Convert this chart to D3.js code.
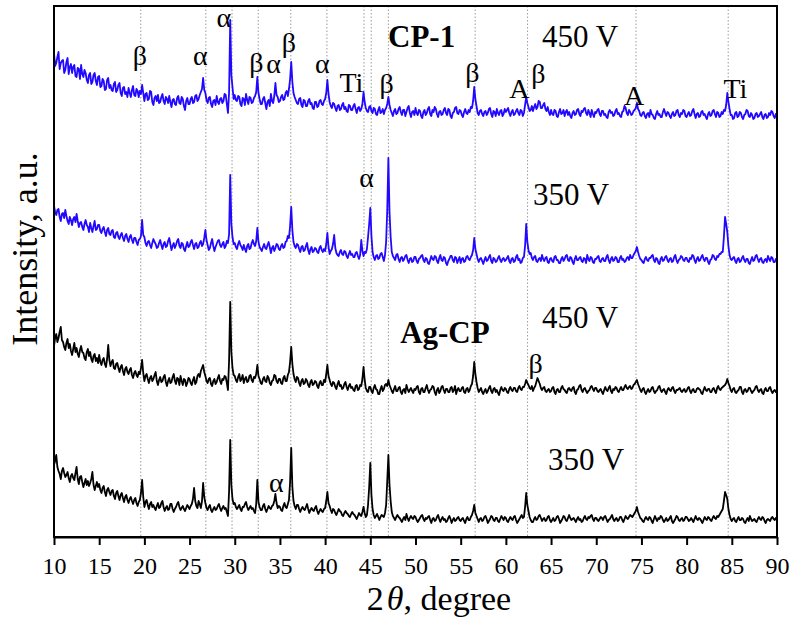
<!DOCTYPE html>
<html>
<head>
<meta charset="utf-8">
<script src="https://cdn.jsdelivr.net/npm/d3@7"></script>
<style>
  body { margin: 0; background: #fff; }
  svg text { font-family: "Liberation Serif", "Times New Roman", serif; }
</style>
</head>
<body>
<svg id="chart" width="791" height="621"></svg>
<script>
// XRD patterns, one row per degree, 0.125 deg step (10..90)
var cp1_450 = [
  84,71,74,80,85,68,74,76, 77,64,67,75,79,63,70,73, 64,70,72,61,60,69,68,58, 72,63,60,67,64,57,54,62, 64,53,55,62,64,56,52,60,
  61,50,51,58,56,47,48,57, 59,49,52,47,46,53,55,45, 47,52,54,44,41,49,50,43, 45,40,49,44,40,47,51,42, 41,48,46,40,46,43,52,44,
  36,43,44,37,38,46,45,35, 32,39,41,36,42,34,35,40, 43,36,33,40,38,34,41,35, 30,37,38,33,32,39,41,34, 33,40,38,31,27,36,39,33,
  33,38,40,34,35,41,42,36, 38,42,45,48,59,47,44,37, 34,39,40,33,30,36,37,32, 41,35,33,38,39,34,36,43, 42,33,24,45,117,62,50,38,
  42,37,36,41,40,33,31,39, 38,32,43,37,33,40,39,34, 35,39,41,45,60,44,38,33, 33,38,40,34,28,35,37,31, 43,36,34,41,54,42,40,35,
  36,40,42,37,38,44,46,41, 48,58,75,55,44,40,37,34, 33,38,39,32,30,37,36,31, 31,36,38,33,34,29,28,35, 35,30,31,36,37,33,32,36,
  38,44,57,43,35,31,29,34, 33,29,26,31,32,27,28,32, 34,28,30,26,25,32,31,27, 27,31,33,28,24,29,30,26, 28,33,45,35,29,26,25,30,
  31,26,24,29,28,23,22,27, 30,24,25,28,23,27,29,33, 40,32,27,24,21,26,28,23, 24,28,30,25,22,27,27,21, 25,29,31,24,20,25,26,22,
  29,24,22,27,26,21,19,25, 27,22,24,28,30,23,21,27, 25,30,28,23,20,25,26,22, 23,27,29,24,22,28,27,21, 19,24,25,29,30,24,23,27,
  26,22,20,25,28,24,23,27, 25,30,29,36,50,38,31,24, 22,26,27,23,21,25,26,22, 24,28,29,23,20,26,25,21, 28,24,22,26,27,21,23,28,
  25,27,29,24,21,25,27,22, 23,26,28,24,22,27,26,21, 24,32,40,34,30,26,27,31, 26,30,33,28,30,36,35,29, 29,32,34,28,26,30,25,22,
  27,23,22,27,26,21,20,25, 28,23,24,27,21,25,27,22, 25,21,19,24,26,22,23,27, 28,23,21,26,25,28,29,24, 22,27,24,20,27,23,20,25,
  24,27,28,23,21,26,26,22, 23,20,19,25,27,24,25,21, 22,26,28,23,24,21,20,25, 26,31,29,24,22,27,25,22, 23,26,27,29,34,28,26,22,
  21,24,25,21,19,23,24,20, 27,23,22,19,18,23,26,22, 23,20,20,25,28,24,21,25, 24,21,19,23,25,21,22,26, 27,22,20,24,23,27,26,21,
  20,23,25,21,22,26,28,23, 19,23,24,20,21,25,26,22, 23,20,18,23,25,21,22,26, 27,23,20,25,24,20,21,25, 23,27,26,32,44,35,28,22,
  22,18,19,24,25,20,21,25, 24,20,18,22,23,27,26,21, 20,24,22,18,19,23,24,20, 21,23,25,20,18,22,23,19, 20,24,22,26,25,21,19,23,
  21];

var cp1_350 = [
  76,70,67,72,73,65,61,68, 69,64,72,66,61,58,65,62, 57,63,65,60,68,61,55,59, 60,55,52,58,62,57,55,50, 59,54,50,56,61,52,53,57,
  57,51,49,53,55,50,46,52, 54,48,47,51,52,45,44,49, 50,45,43,47,49,44,41,46, 48,43,40,45,47,42,39,44, 44,40,37,42,43,46,62,47,
  45,39,36,40,41,37,34,39, 43,40,38,34,35,39,42,37, 33,38,40,35,36,41,44,38, 32,36,39,34,37,41,43,36, 34,39,38,33,31,36,40,35,
  36,40,42,37,33,38,39,34, 35,39,41,36,38,44,52,42, 37,32,34,39,43,36,31,35, 38,41,42,37,35,38,40,34, 36,41,39,48,107,58,45,38,
  39,35,33,38,41,37,35,32, 37,33,30,36,38,33,34,39, 42,38,36,41,54,40,35,33, 31,35,38,34,33,37,40,35, 29,34,36,31,34,38,37,33,
  32,36,38,34,35,40,41,46, 44,56,75,52,40,36,34,38, 37,33,30,35,36,31,32,36, 39,32,28,33,35,30,31,34, 33,30,29,34,36,32,30,33,
  31,38,49,35,28,31,33,38, 47,34,29,27,26,30,32,28, 27,31,30,26,24,28,31,27, 28,25,25,29,30,26,23,27, 42,31,26,30,29,33,45,58,
  74,46,30,25,22,26,27,23, 24,28,29,25,21,27,40,72, 124,70,45,30,26,24,22,27, 28,23,20,24,25,21,23,26, 27,22,19,23,24,20,21,25,
  25,21,19,23,24,26,27,22, 20,24,23,19,18,22,26,23, 22,26,25,21,19,24,27,22, 21,25,24,19,17,21,23,26, 26,22,20,25,24,19,22,25,
  19,23,24,20,21,25,26,23, 22,25,27,32,44,33,28,23, 20,23,24,21,18,22,25,21, 22,25,27,21,19,24,23,20, 21,24,26,22,20,23,24,21,
  22,24,26,21,19,23,24,20, 21,25,27,22,23,19,20,24, 25,36,58,40,32,28,29,24, 22,25,26,21,20,23,24,21, 27,23,21,24,25,20,19,23,
  24,21,20,25,26,22,22,19, 19,23,25,21,23,26,27,22, 21,25,24,20,18,23,26,22, 22,24,25,21,20,24,23,19, 27,23,21,25,24,20,19,23,
  23,25,26,21,20,23,24,21, 21,25,27,22,19,23,25,21, 22,25,24,20,20,24,26,22, 23,20,21,24,25,22,27,24, 24,27,29,31,35,30,26,23,
  22,20,19,23,25,22,21,24, 24,26,27,22,20,24,23,19, 18,23,25,21,22,25,26,22, 20,23,24,20,21,25,27,22, 19,22,23,26,25,22,21,24,
  24,21,20,24,23,27,26,22, 19,23,25,21,22,25,27,23, 21,24,24,20,18,22,23,27, 26,23,22,26,25,28,28,30, 30,45,65,58,50,36,27,23,
  22,24,25,21,19,23,24,20, 21,24,26,22,20,23,23,19, 18,22,25,21,22,26,27,23, 20,23,24,20,19,22,23,20, 26,23,21,25,24,20,20,23,
  22];

var agcp_450 = [
  66,74,78,70,74,80,85,72, 70,65,62,69,73,64,68,61, 57,63,69,60,64,58,55,62, 66,60,59,54,52,60,63,56, 60,53,50,56,58,51,54,49,
  57,50,47,52,54,48,45,53, 67,52,46,50,52,44,43,48, 49,44,40,45,47,41,37,43, 45,40,38,42,44,37,34,39, 41,37,35,40,38,44,52,39,
  31,36,38,33,29,34,36,31, 33,37,40,31,27,32,35,30, 31,35,37,30,26,31,34,29, 30,35,38,31,28,34,33,27, 36,31,27,33,32,26,29,34,
  33,29,27,32,35,28,30,36, 38,35,41,44,47,40,36,31, 29,33,34,28,26,31,33,28, 30,34,37,31,28,33,32,36, 35,29,22,52,110,60,44,37,
  36,32,30,35,38,31,33,37, 29,33,35,30,31,36,37,32, 30,35,34,38,47,36,33,29, 28,33,35,31,30,36,34,29, 27,31,32,37,36,31,29,33,
  33,29,28,34,36,31,31,37, 40,50,65,48,38,33,30,35, 34,29,26,31,33,28,29,33, 31,27,25,30,32,27,28,31, 30,26,24,29,31,27,27,32,
  30,38,47,36,32,28,26,30, 29,25,23,28,31,26,27,23, 24,28,30,25,22,26,28,24, 25,22,21,26,27,22,23,27, 26,33,45,32,24,21,20,25,
  25,21,19,24,27,23,22,18, 18,23,26,21,23,27,28,26, 32,27,24,21,19,23,26,21, 21,24,25,20,18,22,23,19, 27,23,20,22,24,21,19,23,
  22,25,26,20,18,23,24,20, 20,24,27,22,19,22,23,26, 25,20,17,22,24,19,21,25, 26,22,19,23,23,20,20,24, 25,20,22,26,18,22,24,21,
  21,24,25,20,19,23,24,20, 22,26,28,36,50,38,30,24, 20,22,24,20,18,21,23,19, 21,24,26,21,19,23,24,20, 22,19,17,22,25,22,21,24,
  23,20,19,23,25,22,21,24, 24,21,20,24,26,23,22,25, 25,28,32,29,27,24,23,26, 21,24,26,30,34,31,28,24, 22,24,25,21,20,22,23,20,
  21,24,25,20,18,22,23,20, 20,24,26,23,22,20,19,23, 24,22,21,24,25,20,18,22, 23,26,27,22,20,23,24,21, 19,21,22,25,26,23,21,24,
  24,21,20,22,23,20,18,22, 25,22,21,24,26,21,19,23, 22,25,24,21,20,23,25,22, 22,25,27,24,23,25,26,23, 24,27,28,30,32,28,25,22,
  20,23,24,20,18,21,23,20, 21,24,25,21,19,21,22,25, 26,22,20,22,23,20,18,22, 24,22,21,24,25,21,19,22, 22,23,24,21,20,22,23,20,
  21,24,25,21,19,22,23,20, 20,23,24,23,22,19,18,22, 25,22,21,23,23,20,20,23, 24,21,19,24,26,23,22,24, 25,26,27,29,33,29,26,22,
  20,23,24,20,19,21,22,25, 25,20,18,22,23,20,21,24, 24,21,19,21,22,25,26,22, 20,22,23,19,18,22,24,21, 21,24,25,21,19,21,22,20,
  21];

var agcp_350 = [
  72,76,82,70,66,63,58,66, 69,64,60,62,65,59,55,61, 63,59,57,64,70,58,53,60, 61,55,50,54,58,52,56,51, 54,58,65,52,47,51,55,50,
  53,47,44,49,51,45,41,47, 49,45,42,46,47,41,38,44, 46,41,37,42,44,39,35,40, 42,37,34,38,40,36,33,37, 39,34,31,35,37,44,57,40,
  30,35,37,32,28,33,35,30, 32,29,27,31,34,29,30,34, 36,30,26,29,31,27,28,33, 33,28,25,28,30,33,35,30, 27,29,31,28,26,29,32,30,
  28,31,33,38,49,36,31,29, 36,33,29,36,54,40,34,29, 27,30,32,27,25,28,30,27, 28,31,33,29,26,29,31,28, 29,25,21,46,97,52,38,33,
  34,30,28,30,32,28,26,30, 30,33,35,30,27,29,31,28, 29,26,24,33,57,35,30,27, 27,31,33,28,25,28,31,29, 28,31,32,36,43,34,29,31,
  30,27,26,31,34,30,29,33, 37,55,89,50,36,31,28,32, 32,28,25,28,30,28,27,30, 33,28,24,27,29,27,26,29, 31,26,23,26,28,26,25,28,
  29,36,45,34,31,27,24,28, 27,24,22,25,28,26,25,22, 21,24,26,24,23,21,20,23, 25,23,22,20,18,21,24,22, 21,25,30,24,20,22,32,50,
  74,42,28,22,19,21,23,20, 17,20,22,21,20,24,32,56, 82,52,36,25,21,19,17,20, 22,20,19,17,15,18,20,17, 23,19,16,19,21,19,18,21,
  20,17,15,17,19,21,22,18, 16,19,18,20,21,17,14,18, 19,16,17,20,22,18,15,18, 20,17,18,15,16,19,21,18, 14,17,19,16,17,19,20,17,
  16,18,19,16,14,18,20,17, 17,20,22,26,32,24,21,18, 15,18,19,16,17,20,21,18, 14,16,18,21,20,17,16,19, 19,16,15,18,21,19,17,20,
  19,16,15,18,20,18,17,20, 21,17,14,16,18,20,22,19, 20,30,44,32,26,20,17,15, 15,18,20,17,18,21,22,19, 16,18,19,16,17,20,21,17,
  15,17,19,16,17,20,21,18, 14,16,18,21,20,17,16,19, 22,19,17,18,19,17,15,18, 20,17,18,15,16,19,21,18, 17,20,19,21,22,18,16,19,
  19,17,16,18,20,19,17,20, 21,18,15,17,18,20,22,18, 16,18,19,16,17,20,20,17, 15,18,21,19,18,20,22,21, 20,22,24,26,30,25,22,19,
  18,16,15,18,20,18,17,20, 19,16,14,18,21,18,16,19, 18,21,20,17,15,17,19,16, 17,19,21,16,14,16,18,21, 20,17,16,18,19,16,17,20,
  20,18,16,17,19,17,15,18, 21,18,17,19,18,16,14,17, 20,18,17,20,19,17,16,19, 21,19,18,21,20,22,24,26, 28,36,45,42,38,28,22,18,
  16,18,19,16,15,18,20,17, 17,19,18,15,14,17,19,16, 21,18,16,17,18,16,15,18, 20,18,17,20,19,16,14,17, 18,17,16,19,20,18,17,19,
  17];

var traceNames = ["cp1_450", "cp1_350", "agcp_450", "agcp_350"];
var traceValues = [cp1_450, cp1_350, agcp_450, agcp_350];
var traceOffsets = [400, 255, 125, 0];
var traceColors = ["#2208ff", "#2208ff", "#000", "#000"];

var phaseLines = [19.6, 26.8, 29.7, 32.6, 36.2, 40.2, 44.3, 45.1, 47.0, 56.6, 62.4, 74.4, 84.6];
var xTicks = [10, 15, 20, 25, 30, 35, 40, 45, 50, 55, 60, 65, 70, 75, 80, 85, 90];

// peak labels: [text, 2theta, intensity]
var peakLabels = [
  ["β", 19.5, 472], ["α", 26.2, 472], ["α", 28.8, 510], ["β", 32.4, 465],
  ["α", 34.3, 464], ["β", 36.0, 485], ["α", 39.7, 464], ["Ti", 42.9, 445],
  ["β", 46.8, 444], ["β", 56.3, 455], ["A", 61.5, 439], ["β", 63.6, 454],
  ["A", 74.2, 432], ["Ti", 85.4, 439],
  ["α", 44.6, 350], ["β", 63.3, 164], ["α", 34.6, 45]
];
// sample labels: [text, 2theta, intensity, bold]
var sampleLabels = [
  ["CP-1", 46.96, 490, true], ["450 V", 64.0, 490, false],
  ["350 V", 63.0, 332, false],
  ["Ag-CP", 48.3, 194, true], ["450 V", 64.0, 209, false],
  ["350 V", 64.66, 67, false]
];

var svg = d3.select("#chart");
var m = {left: 54, right: 777, top: 6, bottom: 537};

var x = d3.scaleLinear().domain([10, 90]).range([m.left, m.right]);
var y = d3.scaleLinear().domain([0, 531]).range([m.bottom, m.top]);

svg.append("clipPath").attr("id", "plotclip")
  .append("rect")
  .attr("x", m.left).attr("y", m.top)
  .attr("width", m.right - m.left).attr("height", m.bottom - m.top);

// dotted reference lines
svg.append("g").selectAll("line").data(phaseLines).join("line")
  .attr("x1", d => x(d)).attr("x2", d => x(d))
  .attr("y1", m.top).attr("y2", m.bottom)
  .attr("stroke", "#9a9a9a").attr("stroke-width", 1)
  .attr("stroke-dasharray", "1.5,2");

var gTr = svg.append("g").attr("clip-path", "url(#plotclip)");
traceValues.forEach(function(vals, k){
  var step = 80 / (vals.length - 1);
  var line = d3.line()
    .x((d, i) => x(10 + i * step))
    .y(d => y(d + traceOffsets[k]));
  gTr.append("path")
    .datum(vals)
    .attr("class", traceNames[k])
    .attr("d", line)
    .attr("fill", "none")
    .attr("stroke", traceColors[k])
    .attr("stroke-width", 1.8)
    .attr("stroke-linejoin", "round");
});

// frame
svg.append("rect")
  .attr("x", m.left).attr("y", m.top)
  .attr("width", m.right - m.left).attr("height", m.bottom - m.top)
  .attr("fill", "none").attr("stroke", "#000").attr("stroke-width", 2);

var xAxis = svg.append("g")
  .attr("transform", "translate(0," + m.bottom + ")")
  .call(d3.axisBottom(x).tickValues(xTicks).tickSize(8).tickPadding(12).tickSizeOuter(0));
xAxis.select(".domain").attr("stroke-width", 2);
xAxis.selectAll(".tick line").attr("stroke-width", 2);
xAxis.selectAll("text")
  .style("font-family", "'Liberation Serif', serif")
  .style("font-size", "24px").attr("fill", "#000");

// axis titles
var xt = svg.append("text")
  .attr("x", 439).attr("y", 610)
  .attr("text-anchor", "middle")
  .style("font-size", "34px");
xt.append("tspan").text("2");
xt.append("tspan").attr("dx", 3).style("font-style", "italic").text("θ");
xt.append("tspan").text(", degree");

svg.append("text")
  .attr("transform", "translate(37,249) rotate(-90)")
  .attr("text-anchor", "middle")
  .style("font-size", "36px")
  .text("Intensity, a.u.");

svg.append("g").selectAll("text").data(peakLabels).join("text")
  .attr("x", d => x(d[1])).attr("y", d => y(d[2]))
  .attr("text-anchor", "middle")
  .style("font-size", "28px")
  .text(d => d[0]);

svg.append("g").selectAll("text").data(sampleLabels).join("text")
  .attr("x", d => x(d[1])).attr("y", d => y(d[2]))
  .style("font-size", "31px")
  .style("font-weight", d => d[3] ? "bold" : "normal")
  .text(d => d[0]);
</script>
</body>
</html>
